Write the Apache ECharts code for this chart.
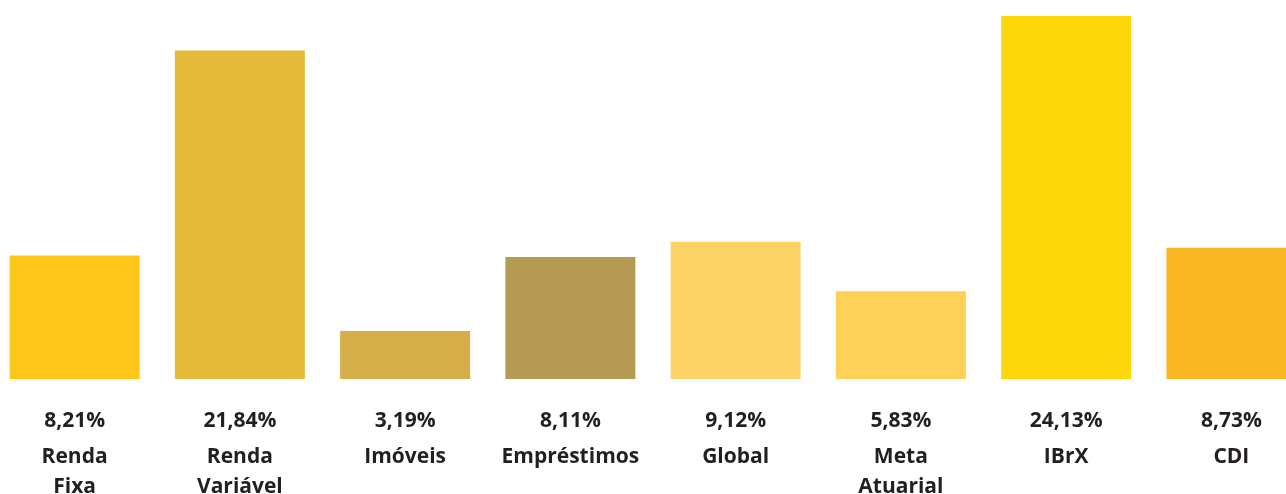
<!DOCTYPE html>
<html>
<head>
<meta charset="utf-8">
<script src="https://cdn.jsdelivr.net/npm/echarts@6/dist/echarts.min.js"></script>
<style>
html,body{margin:0;padding:0;background:#fff;}
#chart{width:1286px;height:494px;}
</style>
</head>
<body>
<div id="chart"></div>
<script>
var categories = ['Renda\nFixa', 'Renda\nVariável', 'Imóveis', 'Empréstimos', 'Global', 'Meta\nAtuarial', 'IBrX', 'CDI'];
var values = [8.21, 21.84, 3.19, 8.11, 9.12, 5.83, 24.13, 8.73];
var colors = ['#FDC619', '#E5BA3A', '#D5AE4A', '#B59A54', '#FDD366', '#FDD057', '#FDD70A', '#FAB824'];

var chart = echarts.init(document.getElementById('chart'));
chart.setOption({
  animation: false,
  grid: {left: -8, right: -28, top: 0, bottom: 115, containLabel: false, outerBoundsMode: 'none'},
  xAxis: {
    type: 'category',
    data: categories,
    axisLine: {show: false},
    axisTick: {show: false},
    axisLabel: {
      interval: 0,
      margin: 22,
      hideOverlap: false,
      formatter: function (name, idx) {
        var v = values[idx].toFixed(2).replace('.', ',') + '%';
        var lines = name.split('\n').map(function (s) { return '{n|' + s + '}'; });
        return '{v|' + v + '}\n' + lines.join('\n');
      },
      rich: {
        v: {fontFamily: 'Open Sans', fontWeight: 'bold', fontSize: 21, color: '#231F20', lineHeight: 41},
        n: {fontFamily: 'Open Sans', fontWeight: 'bold', fontSize: 21, color: '#231F20', lineHeight: 30}
      }
    }
  },
  yAxis: {
    type: 'value',
    min: 0,
    max: 25.2,
    show: false,
    splitLine: {show: false}
  },
  series: [{
    type: 'bar',
    barWidth: 130,
    data: values.map(function (v, i) { return {value: v, itemStyle: {color: colors[i]}}; })
  }]
});
</script>
</body>
</html>
